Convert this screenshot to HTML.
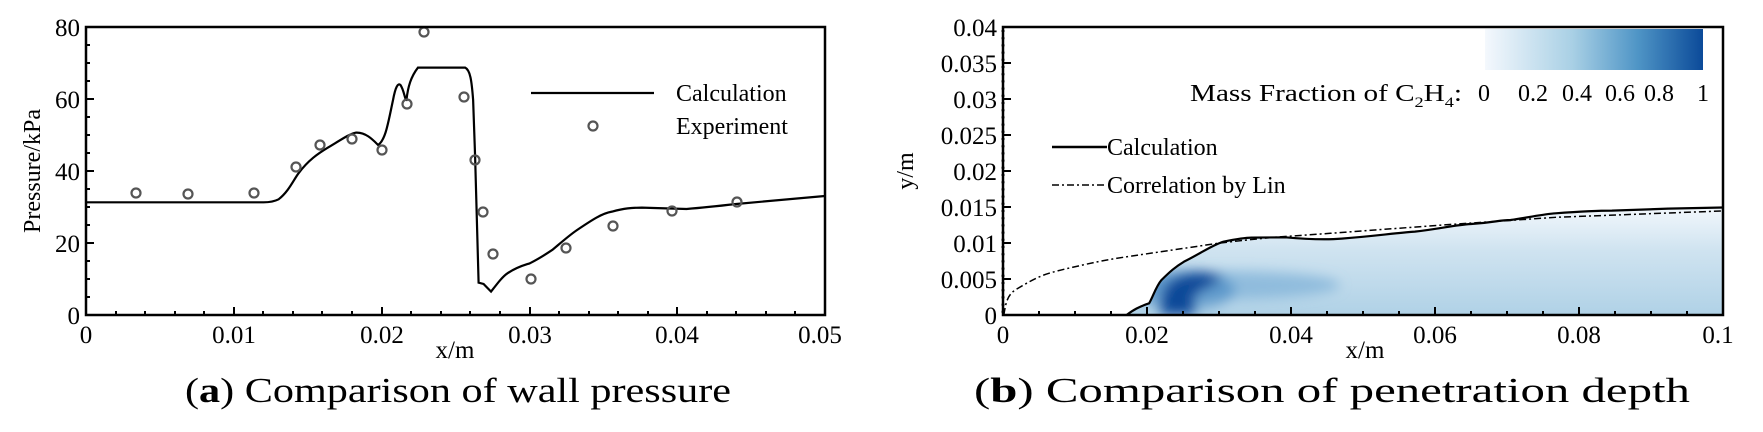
<!DOCTYPE html>
<html><head><meta charset="utf-8"><style>
html,body{margin:0;padding:0;background:#fff;}
svg{display:block;}
text{font-family:"Liberation Serif",serif;fill:#000;}
</style></head><body>
<svg width="1763" height="432" viewBox="0 0 1763 432" xmlns="http://www.w3.org/2000/svg">
<defs>
<linearGradient id="cb" x1="0" x2="1" y1="0" y2="0">
<stop offset="0" stop-color="#f4f8fd"/><stop offset="0.4" stop-color="#a9d0e5"/><stop offset="0.7" stop-color="#4f95c6"/><stop offset="1" stop-color="#0b4a99"/>
</linearGradient>
<linearGradient id="pl" x1="0" x2="0" y1="0" y2="1">
<stop offset="0" stop-color="#f2f7fc"/><stop offset="0.4" stop-color="#cfe3f0"/><stop offset="1" stop-color="#afd1e6"/>
</linearGradient>
<filter id="bl" x="-50%" y="-50%" width="200%" height="200%"><feGaussianBlur stdDeviation="6"/></filter>
<clipPath id="rc"><rect x="1003" y="27" width="720" height="288"/></clipPath>
<clipPath id="plc"><path transform="translate(880,0) scale(0.563,0.3333)" d="M438,945 C450,930 460,920 478,910 C485,890 490,860 500,840 C515,815 525,800 540,785 C570,760 590,735 610,725 C640,715 650,713 660,713 L720,712 C760,718 790,720 820,716 C880,708 910,700 950,695 C1000,685 1020,675 1050,672 C1090,668 1100,660 1120,660 C1160,650 1180,642 1200,640 C1250,634 1280,632 1300,632 L1400,626 L1510,622 L1510,950 L438,950 Z"/></clipPath>
</defs>

<!-- LEFT PLOT -->
<g transform="scale(0.4975,0.3333)" fill="none" stroke="#000">
<path vector-effect="non-scaling-stroke" stroke-width="2.2" d="M173,607 L530,607 C545,607 552,604 560,598 C580,575 590,540 600,520 C620,480 640,460 660,442 C690,415 705,400 715,398 C735,396 750,420 760,435 C775,420 780,370 790,300 C795,260 800,248 805,255 C812,270 814,300 817,300 C820,260 826,230 840,203 L935,203 C945,210 948,240 951,300 L955,470 L962,848 L972,852 L987,875 C1000,850 1010,830 1020,820 C1040,800 1055,795 1065,790 C1085,775 1100,760 1110,750 C1130,725 1145,705 1160,690 C1190,660 1210,640 1230,635 C1255,625 1270,623 1290,623 L1380,627 C1420,622 1450,617 1480,612 L1658,588"/>
</g>
<g fill="none" stroke="#555" stroke-width="2.2">
<circle cx="136" cy="193" r="4.5"/><circle cx="188" cy="194" r="4.5"/><circle cx="254" cy="193" r="4.5"/>
<circle cx="296" cy="167" r="4.5"/><circle cx="320" cy="145" r="4.5"/><circle cx="352" cy="139" r="4.5"/>
<circle cx="382" cy="150" r="4.5"/><circle cx="407" cy="104" r="4.5"/><circle cx="424" cy="32" r="4.5"/>
<circle cx="464" cy="97" r="4.5"/><circle cx="475" cy="160" r="4.5"/><circle cx="483" cy="212" r="4.5"/>
<circle cx="493" cy="254" r="4.5"/><circle cx="531" cy="279" r="4.5"/><circle cx="566" cy="248" r="4.5"/>
<circle cx="613" cy="226" r="4.5"/><circle cx="672" cy="211" r="4.5"/><circle cx="737" cy="202" r="4.5"/>
<circle cx="593" cy="126" r="4.5"/>
</g>
<line x1="531" y1="93" x2="654" y2="93" stroke="#000" stroke-width="2.2"/>
<text x="676" y="101" font-size="24">Calculation</text>
<text x="676" y="134" font-size="24">Experiment</text>
<rect x="86" y="27" width="739" height="288" fill="none" stroke="#000" stroke-width="2.5"/>
<g stroke="#000" stroke-width="2">
<path d="M86,315v-8M116,315v-4M145,315v-4M175,315v-4M204,315v-4M234,315v-8M263,315v-4M293,315v-4M322,315v-4M352,315v-4M382,315v-8M411,315v-4M441,315v-4M470,315v-4M500,315v-4M530,315v-8M559,315v-4M589,315v-4M618,315v-4M648,315v-4M677,315v-8M707,315v-4M736,315v-4M766,315v-4M795,315v-4"/>
<path d="M86,315h8M86,297h4M86,279h4M86,261h4M86,243h8M86,225h4M86,207h4M86,189h4M86,171h8M86,153h4M86,135h4M86,117h4M86,99h8M86,81h4M86,63h4M86,45h4"/>
</g>
<g font-size="25" text-anchor="end">
<text x="80" y="36">80</text><text x="80" y="108">60</text><text x="80" y="180">40</text><text x="80" y="252">20</text><text x="80" y="324">0</text>
</g>
<g font-size="25" text-anchor="middle">
<text x="86" y="343">0</text><text x="234" y="343">0.01</text><text x="382" y="343">0.02</text><text x="530" y="343">0.03</text><text x="677" y="343">0.04</text><text x="820" y="343">0.05</text>
<text x="455" y="358">x/m</text>
</g>
<text transform="translate(40,171) rotate(-90)" font-size="24" text-anchor="middle">Pressure/kPa</text>
<text x="458" y="402" font-size="35" text-anchor="middle" textLength="546" lengthAdjust="spacingAndGlyphs">(<tspan font-weight="bold">a</tspan>) Comparison of wall pressure</text>

<!-- RIGHT PLOT -->
<g clip-path="url(#rc)">
<g transform="translate(880,0) scale(0.563,0.3333)">
<path fill="url(#pl)" d="M438,945 C450,930 460,920 478,910 C485,890 490,860 500,840 C515,815 525,800 540,785 C570,760 590,735 610,725 C640,715 650,713 660,713 L720,712 C760,718 790,720 820,716 C880,708 910,700 950,695 C1000,685 1020,675 1050,672 C1090,668 1100,660 1120,660 C1160,650 1180,642 1200,640 C1250,634 1280,632 1300,632 L1400,626 L1510,622 L1510,950 L438,950 Z"/>
</g>
<g clip-path="url(#plc)">
<g filter="url(#bl)">
<ellipse cx="1230" cy="285" rx="110" ry="14" fill="#6fa9d3" opacity="0.6"/>
<ellipse cx="1185" cy="290" rx="50" ry="20" fill="#3f84c0" opacity="0.6"/>
<path d="M1160,315 L1163,292 C1168,278 1185,272 1205,272 L1222,276 C1215,288 1195,288 1193,300 L1195,315 Z" fill="#0b4a99"/>
</g>
</g>
<g transform="translate(880,0) scale(0.563,0.3333)" fill="none" stroke="#000">
<path vector-effect="non-scaling-stroke" stroke-width="2.2" d="M438,945 C450,930 460,920 478,910 C485,890 490,860 500,840 C515,815 525,800 540,785 C570,760 590,735 610,725 C640,715 650,713 660,713 L720,712 C760,718 790,720 820,716 C880,708 910,700 950,695 C1000,685 1020,675 1050,672 C1090,668 1100,660 1120,660 C1160,650 1180,642 1200,640 C1250,634 1280,632 1300,632 L1400,626 L1510,622"/>
<path vector-effect="non-scaling-stroke" stroke-width="1.5" stroke-dasharray="7,3,2,3" d="M220,945 C224,900 228,885 240,870 C260,850 280,830 300,820 C330,805 350,800 360,795 C400,780 420,775 440,770 C480,760 500,755 520,750 C560,740 580,735 600,730 C650,720 680,715 700,712 L800,700 L1000,675 L1200,652 L1510,632"/>
</g>
</g>
<rect x="1485" y="29" width="218" height="41" fill="url(#cb)"/>
<text x="1190" y="101" font-size="24" textLength="272" lengthAdjust="spacingAndGlyphs">Mass Fraction of C<tspan font-size="15" dy="6">2</tspan><tspan dy="-6">H</tspan><tspan font-size="15" dy="6">4</tspan><tspan dy="-6">:</tspan></text>
<g font-size="24" text-anchor="middle">
<text x="1484" y="101">0</text><text x="1533" y="101">0.2</text><text x="1577" y="101">0.4</text><text x="1620" y="101">0.6</text><text x="1659" y="101">0.8</text><text x="1703" y="101">1</text>
</g>
<line x1="1052" y1="147" x2="1107" y2="147" stroke="#000" stroke-width="2.5"/>
<text x="1107" y="155" font-size="24">Calculation</text>
<line x1="1052" y1="185" x2="1107" y2="185" stroke="#000" stroke-width="1.6" stroke-dasharray="7,3,2,3"/>
<text x="1107" y="193" font-size="24">Correlation by Lin</text>
<rect x="1003" y="27" width="720" height="288" fill="none" stroke="#000" stroke-width="2.5"/>
<g stroke="#000" stroke-width="2">
<path d="M1003,315v-8M1039,315v-4M1075,315v-4M1111,315v-4M1147,315v-8M1183,315v-4M1219,315v-4M1255,315v-4M1291,315v-8M1327,315v-4M1363,315v-4M1399,315v-4M1435,315v-8M1471,315v-4M1507,315v-4M1543,315v-4M1579,315v-8M1615,315v-4M1651,315v-4M1687,315v-4"/>
<path d="M1003,315h8M1003,279h8M1003,243h8M1003,207h8M1003,171h8M1003,135h8M1003,99h8M1003,63h8" />
<path d="M1003,30v285" stroke-dasharray="2,5.2" stroke-width="3"/>
</g>
<g font-size="25" text-anchor="end">
<text x="997" y="36">0.04</text><text x="997" y="72">0.035</text><text x="997" y="108">0.03</text><text x="997" y="144">0.025</text><text x="997" y="180">0.02</text><text x="997" y="216">0.015</text><text x="997" y="252">0.01</text><text x="997" y="288">0.005</text><text x="997" y="324">0</text>
</g>
<g font-size="25" text-anchor="middle">
<text x="1003" y="343">0</text><text x="1147" y="343">0.02</text><text x="1291" y="343">0.04</text><text x="1435" y="343">0.06</text><text x="1579" y="343">0.08</text><text x="1718" y="343">0.1</text>
<text x="1365" y="358">x/m</text>
</g>
<text transform="translate(913,171) rotate(-90)" font-size="24" text-anchor="middle">y/m</text>
<text x="1332" y="402" font-size="35" text-anchor="middle" textLength="716" lengthAdjust="spacingAndGlyphs">(<tspan font-weight="bold">b</tspan>) Comparison of penetration depth</text>
</svg>
</body></html>
